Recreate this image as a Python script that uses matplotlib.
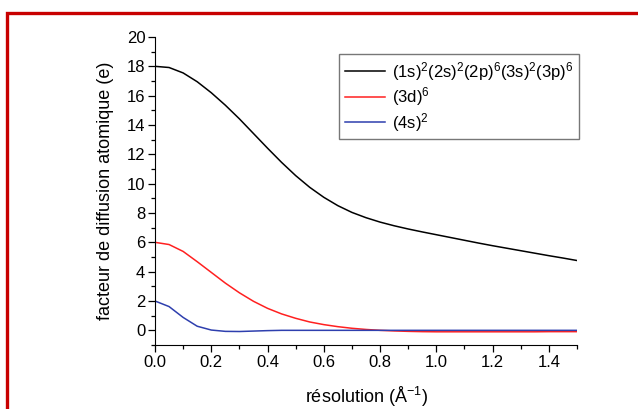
import matplotlib.pyplot as plt
import matplotlib.patches as patches
from matplotlib.ticker import MultipleLocator

plt.rcParams['font.family'] = ['Liberation Sans', 'DejaVu Sans']
plt.rcParams['mathtext.fontset'] = 'custom'
plt.rcParams['mathtext.rm'] = 'Liberation Sans'
plt.rcParams['mathtext.it'] = 'Liberation Sans:italic'
plt.rcParams['mathtext.bf'] = 'Liberation Sans:bold'
plt.rcParams['mathtext.default'] = 'regular'

# résolution (1/Å)
s = [0.00, 0.05, 0.10, 0.15, 0.20, 0.25, 0.30, 0.35, 0.40, 0.45,
     0.50, 0.55, 0.60, 0.65, 0.70, 0.75, 0.80, 0.85, 0.90, 0.95,
     1.00, 1.05, 1.10, 1.15, 1.20, 1.25, 1.30, 1.35, 1.40, 1.45, 1.50]

f_core = [18.0, 17.92, 17.55, 16.95, 16.2, 15.35, 14.42, 13.42, 12.42, 11.45,
          10.55, 9.75, 9.07, 8.5, 8.04, 7.68, 7.38, 7.13, 6.91, 6.71,
          6.52, 6.33, 6.14, 5.95, 5.77, 5.6, 5.43, 5.26, 5.09, 4.93, 4.76]

f_3d = [6.0, 5.85, 5.38, 4.68, 3.95, 3.22, 2.56, 1.98, 1.5, 1.12,
        0.82, 0.57, 0.39, 0.25, 0.14, 0.06, 0.0, -0.04, -0.07, -0.09,
        -0.1, -0.1, -0.1, -0.1, -0.1, -0.1, -0.1, -0.1, -0.09, -0.09, -0.09]

f_4s = [2.0, 1.62, 0.88, 0.28, 0.02, -0.07, -0.08, -0.05, -0.02, 0.0,
        0.0, 0.0, 0.0, 0.0, 0.0, 0.0, 0.0, 0.0, 0.0, 0.0,
        0.0, 0.0, 0.0, 0.0, 0.0, 0.0, 0.0, 0.0, 0.0, 0.0, 0.0]

labels = [r'(1s)$^{2}$(2s)$^{2}$(2p)$^{6}$(3s)$^{2}$(3p)$^{6}$',
          r'(3d)$^{6}$',
          r'(4s)$^{2}$']

fig = plt.figure(figsize=(6.38, 4.09), dpi=100)
ax = fig.add_axes([155/638, 1-345/409, 422/638, 308/409])

ax.plot(s, f_core, color='black', lw=1.1, label=labels[0])
ax.plot(s, f_3d, color='#ff2020', lw=1.1, label=labels[1])
ax.plot(s, f_4s, color='#2e3fae', lw=1.1, label=labels[2])

ax.set_xlim(0, 1.5)
ax.set_ylim(-1, 20)
ax.xaxis.set_major_locator(MultipleLocator(0.2))
ax.xaxis.set_minor_locator(MultipleLocator(0.1))
ax.yaxis.set_major_locator(MultipleLocator(2))
ax.yaxis.set_minor_locator(MultipleLocator(1))
ax.spines['top'].set_visible(False)
ax.spines['right'].set_visible(False)
ax.tick_params(which='major', direction='out', length=5, width=0.9, labelsize=12, pad=2)
ax.tick_params(which='minor', direction='out', length=3, width=0.9)

ax.set_xlabel(r'résolution (Å$^{-1}$)', fontsize=13, labelpad=11)
ax.set_ylabel('facteur de diffusion atomique (e)', fontsize=13, labelpad=9)

leg = ax.legend(loc='upper left', bbox_to_anchor=(339/638, 1-54/409),
                bbox_transform=fig.transFigure, borderaxespad=0,
                fontsize=12, frameon=True, fancybox=False, handlelength=2.4,
                handletextpad=0.4, labelspacing=0.15, borderpad=0.35)
leg.get_frame().set_edgecolor('#555555')
leg.get_frame().set_linewidth(1.0)

# red frame around the figure (right and bottom cut off)
fig.patches.append(patches.Rectangle((6.7/638, -0.2), 1.3, 1.2 - 12.8/409,
                                     transform=fig.transFigure, fill=False,
                                     edgecolor='#c80000', lw=2.4))

fig.savefig('out.png', dpi=100)
